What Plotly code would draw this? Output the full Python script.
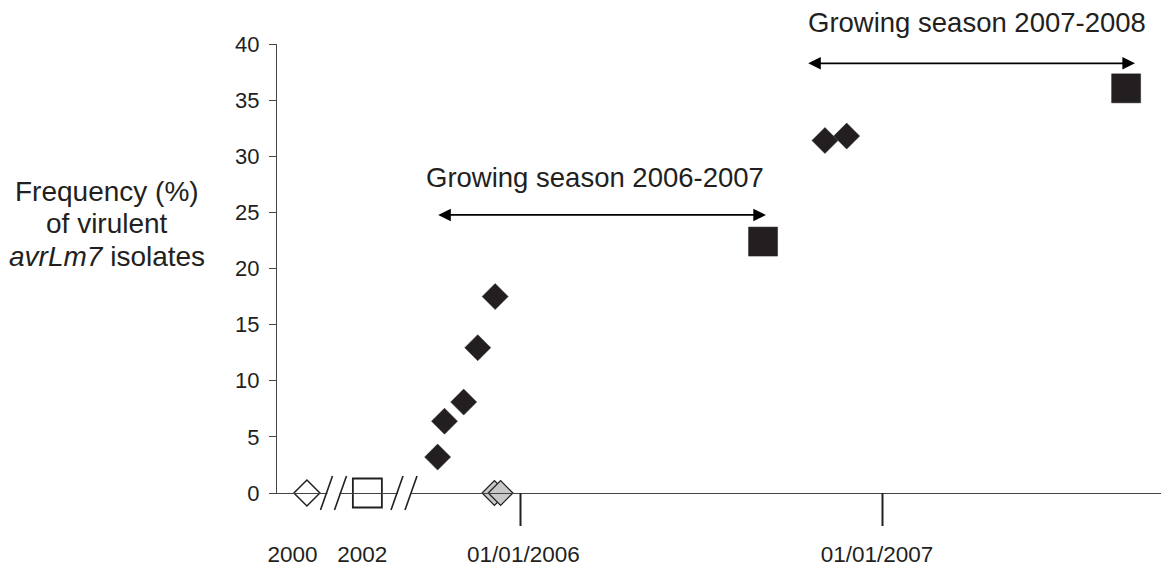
import plotly.graph_objects as go

# ---------------- data (x in decimal years; 2000/2002 placed left of axis breaks) -------------
early_labels = ["2000", "2002"]
early_x = [2005.410, 2005.577]          # surrogate positions before the axis breaks
early_y = [0, 0]

field_x = [2005.771, 2005.790, 2005.843, 2005.882, 2005.930, 2006.841, 2006.901]
field_y = [3.2, 6.4, 8.1, 12.95, 17.5, 31.4, 31.8]

zero_x = [2005.928, 2005.945]
zero_y = [0, 0]

season_x = [2006.670, 2007.673]
season_y = [22.4, 36.05]

tick_labels = ["2000", "2002", "01/01/2006", "01/01/2007"]
tick_label_pos = [2005.370, 2005.563, 2006.008, 2006.985]
year_ticks = [2006, 2007]

season_names = ["Growing season 2006-2007", "Growing season 2007-2008"]
season_start = [2005.7685, 2006.7906]
season_end = [2006.678, 2007.6975]
season_arrow_y = [24.77, 38.28]
season_text_x = [2006.206, 2007.262]
season_text_y_paper = [0.7016, 1.0479]

break_centers = [2005.4834, 2005.6782]

x_range = [2005.32735, 2007.79144]
y_range = [0, 40]

INK = "#231f20"
AXIS = "#444444"
FONT = "Liberation Sans, Arial, sans-serif"

fig = go.Figure()

fig.add_trace(go.Scatter(
    x=[early_x[0]], y=[early_y[0]], mode="markers", cliponaxis=False,
    marker=dict(symbol="diamond", size=20, color="white", line=dict(color=INK, width=1.5)),
    name=early_labels[0]))
fig.add_trace(go.Scatter(
    x=[early_x[1]], y=[early_y[1]], mode="markers", cliponaxis=False,
    marker=dict(symbol="square", size=29, color="white", line=dict(color=INK, width=1.8)),
    name=early_labels[1]))
fig.add_trace(go.Scatter(
    x=zero_x, y=zero_y, mode="markers", cliponaxis=False,
    marker=dict(symbol="diamond", size=19, color="#c8c8c8", line=dict(color=INK, width=1.3))))
fig.add_trace(go.Scatter(
    x=field_x, y=field_y, mode="markers", cliponaxis=False,
    marker=dict(symbol="diamond", size=20, color=INK, line=dict(color=INK, width=0.5))))
fig.add_trace(go.Scatter(
    x=season_x, y=season_y, mode="markers", cliponaxis=False,
    marker=dict(symbol="square", size=29, color=INK, line=dict(color=INK, width=0.5))))

shapes = []
# long downward ticks at 01/01/2006 and 01/01/2007
for t in year_ticks:
    shapes.append(dict(type="line", xref="x", yref="paper", x0=t, x1=t, y0=0, y1=-0.0735,
                       line=dict(color=INK, width=2)))
# axis break marks "//"
sep = 7 / 362
dx = 6 / 362
dy = 17 / 449
for c in break_centers:
    shapes.append(dict(type="line", xref="x", yref="paper", x0=c - sep + dx * 0.15, x1=c + sep - dx * 0.15,
                       y0=0, y1=0, line=dict(color="white", width=3)))
    for s in (-sep, sep):
        shapes.append(dict(type="line", xref="x", yref="paper",
                           x0=c + s - dx, x1=c + s + dx, y0=-dy, y1=dy,
                           line=dict(color=INK, width=1.6)))

annotations = []
for name, xs, xe, ya, tx, ty in zip(season_names, season_start, season_end,
                                     season_arrow_y, season_text_x, season_text_y_paper):
    annotations.append(dict(x=xe, y=ya, ax=xs, ay=ya, xref="x", yref="y", axref="x", ayref="y",
                            text="", showarrow=True, arrowhead=2, arrowside="end+start",
                            arrowwidth=1.8, arrowsize=1.4, arrowcolor="black", standoff=0,
                            startstandoff=0))
    annotations.append(dict(x=tx, y=ty, xref="x", yref="paper", text=name, showarrow=False,
                            xanchor="center", yanchor="middle",
                            font=dict(size=27.5, color=INK, family=FONT)))

ytitle = ["Frequency (%)", "of virulent", "<i>avrLm7</i> isolates"]
ytitle_y = [0.6726, 0.6013, 0.5278]
for txt, yy in zip(ytitle, ytitle_y):
    annotations.append(dict(x=-0.1906, y=yy, xref="paper", yref="paper", text=txt,
                            showarrow=False, xanchor="center", yanchor="middle",
                            font=dict(size=28, color=INK, family=FONT)))

fig.update_layout(
    width=1161, height=562,
    margin=dict(l=269, r=0, t=36, b=77),
    paper_bgcolor="white", plot_bgcolor="white",
    showlegend=False,
    font=dict(family=FONT, color=INK),
    xaxis=dict(range=x_range, showgrid=False, zeroline=False, showline=True,
               linecolor=AXIS, linewidth=1.3, ticks="",
               tickmode="array", tickvals=tick_label_pos, ticktext=tick_labels,
               tickfont=dict(size=22.5, color=INK, family=FONT), ticklabelstandoff=41),
    yaxis=dict(range=y_range, showgrid=False, zeroline=False, showline=True,
               linecolor=AXIS, linewidth=1.3, ticks="outside", ticklen=7,
               tickcolor=AXIS, tickwidth=1.3,
               tickmode="array", tickvals=list(range(0, 41, 5)),
               tickfont=dict(size=22, color=INK, family=FONT), ticklabelstandoff=5),
    shapes=shapes, annotations=annotations,
)

fig.write_html("out.html")
